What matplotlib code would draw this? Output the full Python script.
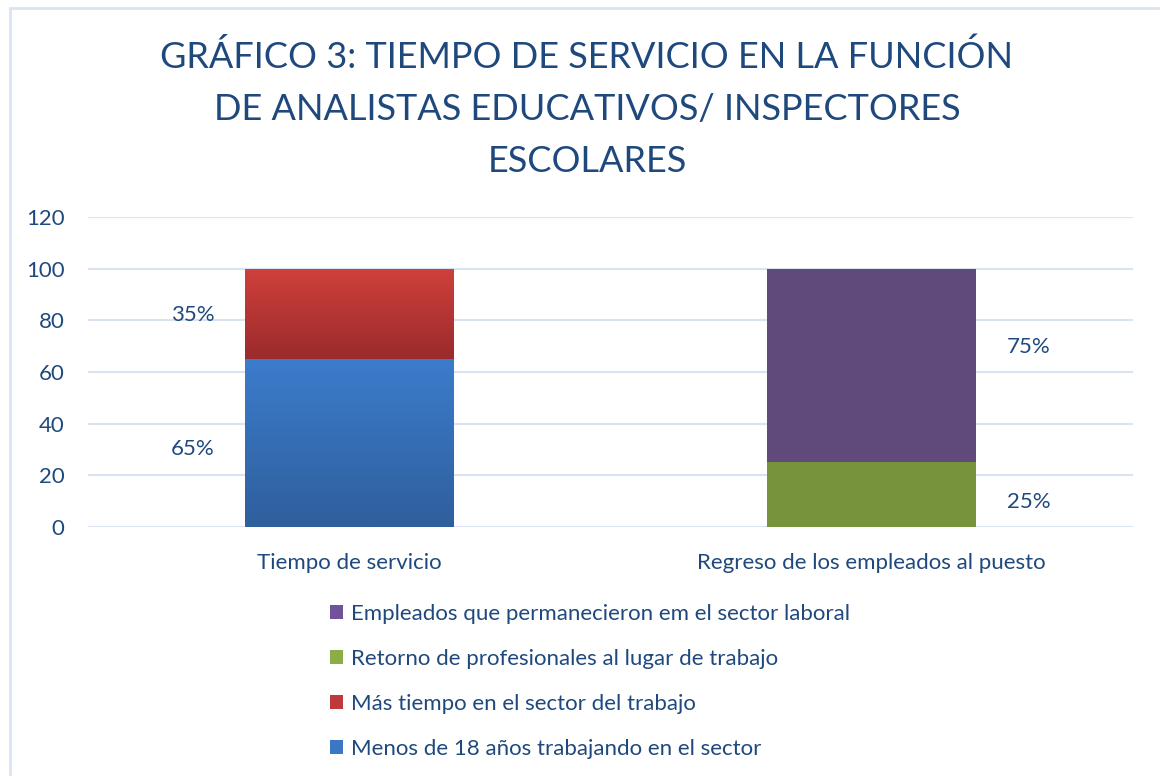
import numpy as np
import matplotlib.pyplot as plt
from matplotlib.patches import Rectangle
from matplotlib.colors import LinearSegmentedColormap

# data
categories = ['Tiempo de servicio', 'Regreso de los empleados al puesto']
series_names = [
    'Menos de 18 años trabajando en el sector',
    'Más tiempo en el sector del trabajo',
    'Retorno de profesionales al lugar de trabajo',
    'Empleados que permanecieron em el sector laboral',
]
menos_18 = [65, 0]
mas_tiempo = [35, 0]
retorno = [0, 25]
permanecieron = [0, 75]
value_labels = ['65%', '35%', '25%', '75%']

title = ('GRÁFICO 3: TIEMPO DE SERVICIO EN LA FUNCIÓN\n'
         'DE ANALISTAS EDUCATIVOS/ INSPECTORES\nESCOLARES')

text_col = '#1F497D'
grid_col = '#D9E3F1'
font = ['Lato', 'DejaVu Sans']
plt.rcParams['font.family'] = font

fig = plt.figure(figsize=(11.6, 7.76), dpi=100)
fig.patches.append(Rectangle((10 / 1160, -0.1), 1.2, 1.1 - 8 / 776,
                             transform=fig.transFigure, fill=False,
                             edgecolor=grid_col, linewidth=2))
ax = fig.add_axes([88 / 1160, 249 / 776, 1045 / 1160, 310 / 776])

x = np.arange(len(categories))
width = 0.40
series = [menos_18, mas_tiempo, retorno, permanecieron]
colors = ['#3A77C4', '#C0393A', '#77933C', '#604A7B']
legend_colors = ['#3A77C4', '#C0393A', '#8AAE45', '#70539A']
gradients = [('#3C7CCB', '#2F5F9D'), ('#D0403C', '#9B2B2B'), None, None]
# small vertical nudges of the % labels, as placed in the original
label_nudge = [-2.5, -0.5, -3, 7]

bottom = np.zeros(len(categories))
containers = []
for vals, name, col, grad in zip(series, series_names, colors, gradients):
    bars = ax.bar(x, vals, width, bottom=bottom, color=col, label=name,
                  zorder=3)
    if grad is not None:
        cmap = LinearSegmentedColormap.from_list('g', [grad[1], grad[0]])
        for b in bars:
            if b.get_height() <= 0:
                continue
            bx, by = b.get_x(), b.get_y()
            im = ax.imshow(np.linspace(0, 1, 100).reshape(-1, 1), cmap=cmap,
                           origin='lower', aspect='auto', zorder=3.5,
                           extent=[bx, bx + b.get_width(), by,
                                   by + b.get_height()])
            im.set_clip_path(b)
    containers.append((bars, np.array(vals), bottom.copy()))
    bottom = bottom + np.array(vals)

# percentage labels beside the bars
for k, (bars, vals, bot) in enumerate(containers):
    for i, v in enumerate(vals):
        if v <= 0:
            continue
        side = -0.30 if i == 0 else 0.30
        ax.text(x[i] + side, bot[i] + v / 2 + label_nudge[k], value_labels[k],
                ha='center', va='center', fontsize=16, color=text_col)

ax.set_xlim(-0.5, 1.5)
ax.set_ylim(0, 120)
ax.set_yticks(range(0, 121, 20))
ax.set_xticks(x)
ax.set_xticklabels(categories)
ax.tick_params(axis='both', length=0, labelsize=16, labelcolor=text_col)
ax.tick_params(axis='y', pad=17)
ax.tick_params(axis='x', pad=19)
ax.grid(axis='y', color=grid_col, linewidth=1.5, zorder=0)
for s in ax.spines.values():
    s.set_visible(False)

fig.text(0.506, 1 - 40 / 776, title, ha='center', va='top', fontsize=26,
         color=text_col, linespacing=1.7)

handles, labels = ax.get_legend_handles_labels()
leg = fig.legend(handles[::-1], labels[::-1], loc='upper left',
                 bbox_to_anchor=(310 / 1160, 1 - 584 / 776), frameon=False,
                 fontsize=16, labelcolor=text_col, handlelength=0.6,
                 handleheight=0.6, handletextpad=0.35, labelspacing=1.12)
for h, c in zip(leg.legend_handles, legend_colors[::-1]):
    h.set_facecolor(c)

fig.savefig('out.png', dpi=100)
